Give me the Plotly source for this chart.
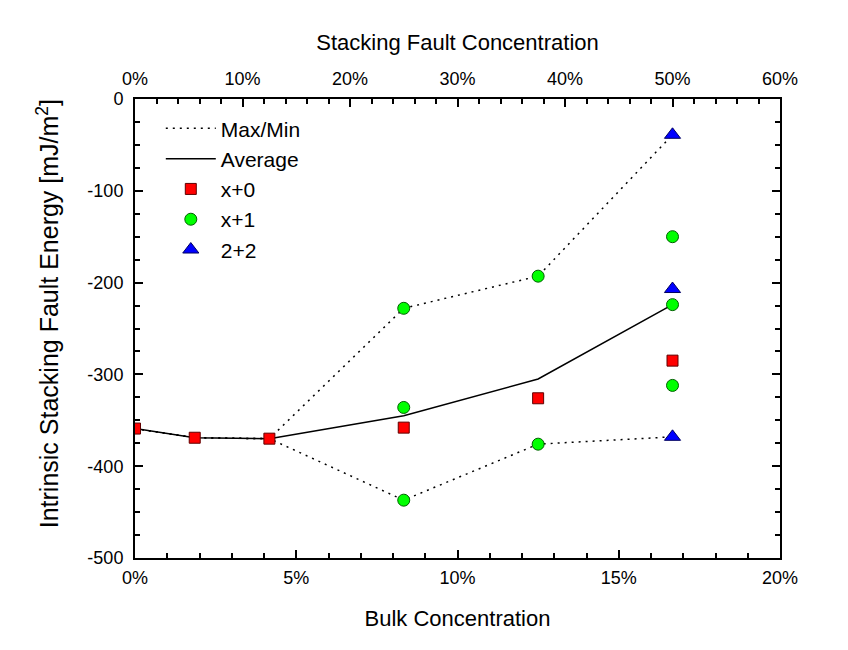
import plotly.graph_objects as go

# Bulk concentration (%) and energies (mJ/m^2)
line_x = [0, 1.852, 4.167, 8.333, 12.5, 16.667]
avg_vals = [-359, -369, -370, -345, -305, -224]
max_vals = [-359, -369, -370, -228, -193, -39]
min_vals = [-359, -369, -370, -437, -376, -368]

x0_x = [0, 1.852, 4.167, 8.333, 12.5, 16.667]
x0_vals = [-359, -369, -370, -358, -326, -285]

x1_x = [8.333, 8.333, 8.333, 12.5, 12.5, 16.667, 16.667, 16.667]
x1_vals = [-228, -336, -437, -193, -376, -150, -224, -312]

t22_x = [16.667, 16.667, 16.667]
t22_vals = [-39, -207, -368]

bottom_ticks = [0, 5, 10, 15, 20]
bottom_labels = ["0%", "5%", "10%", "15%", "20%"]
top_ticks = [0, 10, 20, 30, 40, 50, 60]
top_labels = ["0%", "10%", "20%", "30%", "40%", "50%", "60%"]
y_ticks = [-500, -400, -300, -200, -100, 0]
y_labels = ["-500", "-400", "-300", "-200", "-100", "0"]

FONT = "Liberation Sans, Arial, sans-serif"
DOT = "2px,5px"

fig = go.Figure()
fig.add_trace(go.Scatter(x=line_x, y=max_vals, mode="lines", name="Max/Min",
                         line=dict(color="black", width=1.5, dash=DOT),
                         legendgroup="mm"))
fig.add_trace(go.Scatter(x=line_x, y=min_vals, mode="lines", name="Max/Min",
                         line=dict(color="black", width=1.5, dash=DOT),
                         legendgroup="mm", showlegend=False))
fig.add_trace(go.Scatter(x=line_x, y=avg_vals, mode="lines", name="Average",
                         line=dict(color="black", width=1.5)))
fig.add_trace(go.Scatter(x=x0_x, y=x0_vals, mode="markers", name="x+0",
                         marker=dict(symbol="square", size=11, color="#ff0000",
                                     line=dict(color="#600000", width=1))))
fig.add_trace(go.Scatter(x=x1_x, y=x1_vals, mode="markers", name="x+1",
                         marker=dict(symbol="circle", size=12, color="#00ff00",
                                     line=dict(color="#006000", width=1))))
fig.add_trace(go.Scatter(x=t22_x, y=t22_vals, mode="markers", name="2+2",
                         marker=dict(symbol="triangle-up", size=14, color="#0000ff",
                                     line=dict(color="#000060", width=1))))
# invisible trace to activate top axis
fig.add_trace(go.Scatter(x=[0, 60], y=[None, None], xaxis="x2", mode="markers",
                         showlegend=False, hoverinfo="skip"))

fig.update_layout(
    width=848, height=650,
    margin=dict(l=127, r=76, t=91, b=100),
    paper_bgcolor="white", plot_bgcolor="white",
    font=dict(family=FONT, color="black", size=18),
    showlegend=True,
    legend=dict(x=0.04, y=0.98, xanchor="left", yanchor="top",
                bgcolor="rgba(0,0,0,0)", font=dict(size=21, family=FONT),
                tracegroupgap=0, itemwidth=50),
    xaxis=dict(range=[0, 20], tickvals=bottom_ticks, ticktext=bottom_labels,
               showgrid=False, zeroline=False, showline=True, linecolor="black",
               linewidth=2, ticks="inside", ticklen=8, tickwidth=1.5, tickcolor="black",
               minor=dict(ticks="inside", ticklen=5, dtick=1, tickcolor="black", tickwidth=1.5),
               tickfont=dict(size=18), ticklabelstandoff=2,
               title=dict(text="Bulk Concentration", font=dict(size=22), standoff=24)),
    xaxis2=dict(range=[0, 60], tickvals=top_ticks, ticktext=top_labels,
                overlaying="x", side="top", showgrid=False, zeroline=False,
                showline=True, linecolor="black", linewidth=2,
                ticks="inside", ticklen=8, tickwidth=1.5, tickcolor="black",
                minor=dict(ticks="inside", ticklen=5, dtick=2, tickcolor="black", tickwidth=1.5),
                tickfont=dict(size=18), ticklabelstandoff=5,
                title=dict(text="Stacking Fault Concentration", font=dict(size=22), standoff=12)),
    yaxis=dict(range=[-500, 0], tickvals=y_ticks, ticktext=y_labels,
               showgrid=False, zeroline=False, showline=True, linecolor="black",
               linewidth=2, mirror="ticks", ticks="inside", ticklen=8, tickwidth=1.5,
               tickcolor="black",
               minor=dict(ticks="inside", ticklen=5, dtick=25, tickcolor="black", tickwidth=1.5),
               tickfont=dict(size=18), ticklabelstandoff=6),
    annotations=[dict(text="Intrinsic Stacking Fault Energy [mJ/m<sup>2</sup>]",
                      textangle=-90, xref="paper", yref="paper",
                      x=-0.135, y=0.533, xanchor="center", yanchor="middle",
                      showarrow=False, font=dict(size=25, family=FONT, color="black"))],
)

fig.write_html("out.html")
